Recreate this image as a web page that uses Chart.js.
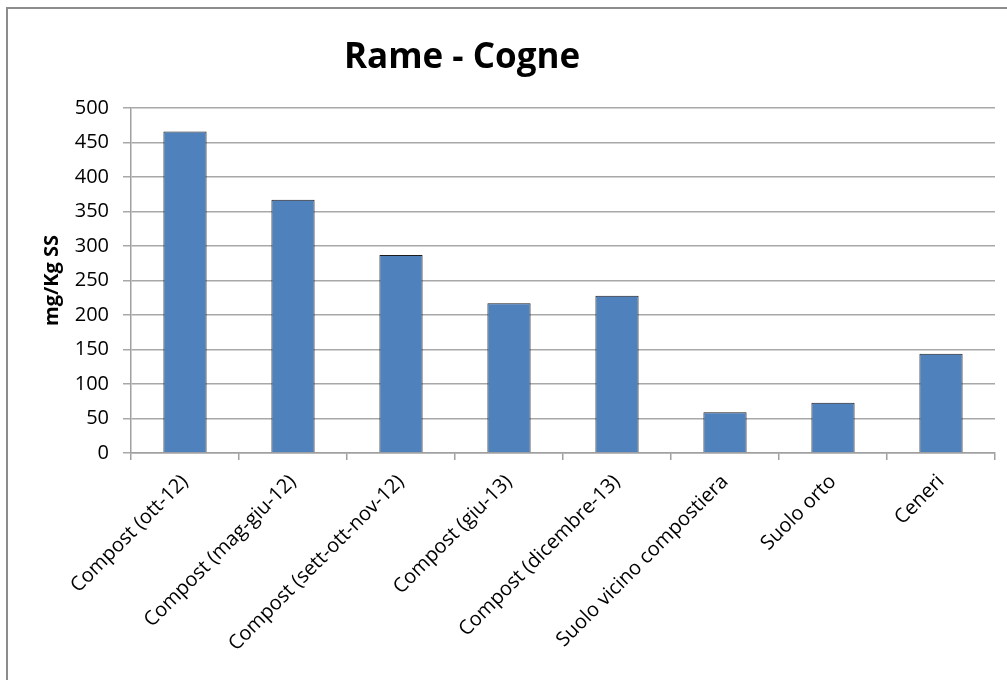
<!DOCTYPE html>
<html>
<head>
<meta charset="utf-8">
<script src="https://cdn.jsdelivr.net/npm/chart.js@4/dist/chart.umd.min.js"></script>
<style>
  html, body { margin: 0; padding: 0; background: #fff; overflow: hidden; }
  #wrap { position: relative; width: 1007px; height: 680px; }
  #frame {
    position: absolute; left: 6px; top: 7px; right: -10px; bottom: -10px;
    border-left: 2px solid #8c8c8c; border-top: 2px solid #8c8c8c;
    pointer-events: none;
  }
</style>
</head>
<body>
<div id="wrap">
  <canvas id="c" width="1007" height="680"></canvas>
  <div id="frame"></div>
</div>
<script>
// Copper content per sample (mg/Kg dry matter)
const categories = [
  'Compost (ott-12)',
  'Compost (mag-giu-12)',
  'Compost (sett-ott-nov-12)',
  'Compost (giu-13)',
  'Compost (dicembre-13)',
  'Suolo vicino compostiera',
  'Suolo orto',
  'Ceneri'
];
const rameValues = [466, 367, 287, 217, 228, 59, 73, 144];
const yTicks = [0, 50, 100, 150, 200, 250, 300, 350, 400, 450, 500];

const chartTitle = 'Rame - Cogne';
const yAxisTitle = 'mg/Kg SS';

// Title drawn slightly left of the plot centre
const titlePlugin = {
  id: 'sheetTitle',
  afterDraw(chart) {
    const ctx = chart.ctx;
    ctx.save();
    ctx.font = 'bold 35px "Open Sans"';
    ctx.fillStyle = '#000';
    ctx.textAlign = 'center';
    ctx.textBaseline = 'alphabetic';
    ctx.fillText(chartTitle, 462, 68);
    ctx.restore();
  }
};

new Chart(document.getElementById('c'), {
  type: 'bar',
  data: {
    labels: categories,
    datasets: [{
      data: rameValues,
      backgroundColor: '#4F81BD',
      borderColor: '#1c1c1c',
      borderWidth: 1,
      barPercentage: 0.4,
      categoryPercentage: 1.0
    }]
  },
  options: {
    responsive: false,
    animation: false,
    layout: { padding: { left: 0, right: 12, top: 108, bottom: 0 } },
    plugins: {
      legend: { display: false },
      title: { display: false },
      tooltip: { enabled: false }
    },
    scales: {
      x: {
        offset: true,
        grid: {
          offset: true,
          drawOnChartArea: false,
          drawTicks: true,
          tickLength: 7,
          color: '#a0a0a0',
          lineWidth: 1.5
        },
        border: { display: true, color: '#a0a0a0', width: 1.5 },
        ticks: {
          minRotation: 45,
          maxRotation: 45,
          autoSkip: false,
          padding: 10,
          color: '#000',
          font: { family: '"Open Sans"', size: 20 }
        },
        afterFit(scale) { scale.height = 227; }
      },
      y: {
        min: 0,
        max: 500,
        afterBuildTicks(scale) { scale.ticks = yTicks.map(v => ({ value: v })); },
        grid: {
          drawTicks: true,
          tickLength: 8,
          color: '#a8a8a8',
          lineWidth: 1.5
        },
        border: { display: true, color: '#a0a0a0', width: 1.5 },
        ticks: {
          padding: 14,
          color: '#000',
          font: { family: '"Open Sans"', size: 20 }
        },
        title: {
          display: true,
          text: yAxisTitle,
          color: '#000',
          font: { family: '"Open Sans"', size: 20, weight: 'bold' },
          padding: { top: 40, bottom: 0 }
        },
        afterFit(scale) { scale.width = 131; }
      }
    }
  },
  plugins: [titlePlugin]
});
</script>
</body>
</html>
